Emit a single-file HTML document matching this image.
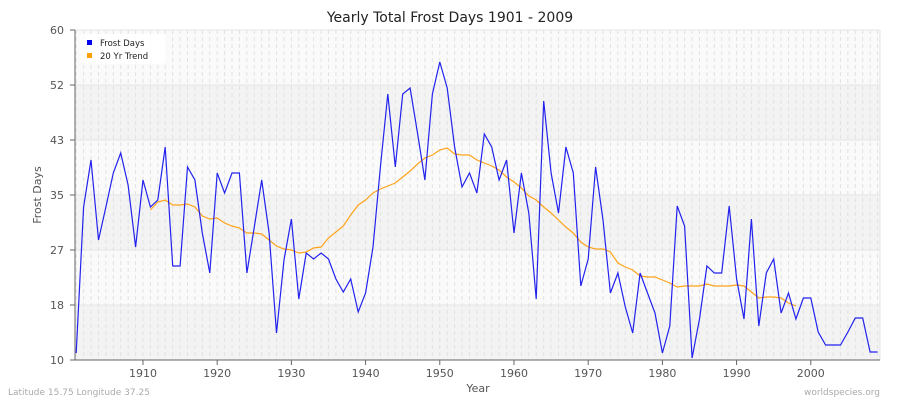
<!DOCTYPE html>
<html><head><meta charset="utf-8"><style>
body{margin:0;background:#fff;}
svg{display:block;font-family:"DejaVu Sans","Liberation Sans",sans-serif;}
</style></head><body>
<svg id="s" width="900" height="400" xmlns="http://www.w3.org/2000/svg">
<rect width="900" height="400" fill="#fff"/>
<g id="bg"></g>
<g id="grid"></g>
<text x="450" y="22" text-anchor="middle" font-size="14" fill="#222">Yearly Total Frost Days 1901 - 2009</text>
<text x="41" y="195" text-anchor="middle" font-size="11" fill="#555" transform="rotate(-90 41 195)">Frost Days</text>
<text x="478" y="392" text-anchor="middle" font-size="11" fill="#555">Year</text>
<text x="8" y="395" font-size="9" fill="#aaa">Latitude 15.75 Longitude 37.25</text>
<text x="880" y="395" text-anchor="end" font-size="9" fill="#aaa">worldspecies.org</text>
<g id="ax"></g>
<polyline id="tr" fill="none" stroke="#ffa31a" stroke-width="1.2"/>
<polyline id="fd" fill="none" stroke="#2222ee" stroke-width="1.2"/>
<rect x="80" y="34" width="86" height="30" rx="4" fill="#fff" opacity="0.9"/>
<rect x="87" y="40" width="5" height="5" fill="#0000ee"/>
<text x="100" y="46" font-size="8.5" fill="#222">Frost Days</text>
<rect x="87" y="53" width="5" height="5" fill="#ffa000"/>
<text x="100" y="59" font-size="8.5" fill="#222">20 Yr Trend</text>
</svg>
<script>
var NS="http://www.w3.org/2000/svg";
function el(p,t,a){var e=document.createElementNS(NS,t);for(var k in a)e.setAttribute(k,a[k]);document.getElementById(p).appendChild(e);return e;}
var L=75,R=880,T=30,B=360;
function X(y){return 76.2+(y-1901)*7.42;}
var ys=[30,85,140,195,250,305,360];
for(var i=0;i<6;i++){el("bg","rect",{x:L,y:ys[i],width:R-L,height:55,fill:i%2?"#f3f3f3":"#fafafa"});}
for(var y=1901;y<=2009;y++){var x=X(y);el("grid","line",{x1:x,x2:x,y1:T,y2:B,stroke:"#e2e2e2","stroke-dasharray":"4,3","stroke-width":1});}
for(var i=0;i<7;i++){el("grid","line",{x1:L,x2:R,y1:ys[i],y2:ys[i],stroke:"#e4e4e4"});}
el("grid","line",{x1:R,x2:R,y1:T,y2:B,stroke:"#e4e4e4"});
var lab=["60","52","43","35","27","18","10"];
for(var i=0;i<7;i++){el("ax","line",{x1:70,x2:L,y1:ys[i],y2:ys[i],stroke:"#666"});var t=el("ax","text",{x:64,y:ys[i]+4,"text-anchor":"end","font-size":"11",fill:"#555"});t.textContent=lab[i];}
el("ax","line",{x1:L,x2:L,y1:T,y2:B,stroke:"#666"});
el("ax","line",{x1:L,x2:R,y1:B,y2:B,stroke:"#666"});
for(var d=1910;d<=2000;d+=10){var x=X(d);el("ax","line",{x1:x,x2:x,y1:B,y2:B+5,stroke:"#666"});var t=el("ax","text",{x:x,y:B+17,"text-anchor":"middle","font-size":"11",fill:"#555"});t.textContent=d;}
var fd=[353,207,160,240,207,173,153,185,247,180,207,200,147,266,266,167,180,233,273,173,193,173,173,273,227,180,233,333,260,219,299,253,259,253,259,279,292,279,312,293,247,167,94,167,94,88,133,180,94,62,88,147,187,173,193,134,147,180,160,233,173,213,299,101,173,213,147,173,286,259,167,220,293,273,307,333,273,293,313,353,326,206,226,358,319,266,273,273,206,279,319,219,326,273,259,313,293,319,298,298,332,345,345,345,332,318,318,352,352];
var p=[];for(var i=0;i<fd.length;i++)p.push(X(1901+i).toFixed(1)+","+fd[i]);
document.getElementById("fd").setAttribute("points",p.join(" "));
var tr=[210,202,200,205,205,204,207,216,219,218,223,226,228,233,233,234,240,246,249,250,253,252,248,247,238,232,226,215,205,200,193,189,186,183,177,171,164,158,155,150,148,154,155,155,160,163,166,170,177,182,188,196,200,207,213,220,227,233,242,247,249,249,252,263,267,270,276,277,277,280,283,287,286,286,286,284,286,286,286,285,286,292,298,297,297,298,303,306];
var q=[];for(var i=0;i<tr.length;i++)q.push(X(1911+i).toFixed(1)+","+tr[i]);
document.getElementById("tr").setAttribute("points",q.join(" "));
</script>
</body></html>
